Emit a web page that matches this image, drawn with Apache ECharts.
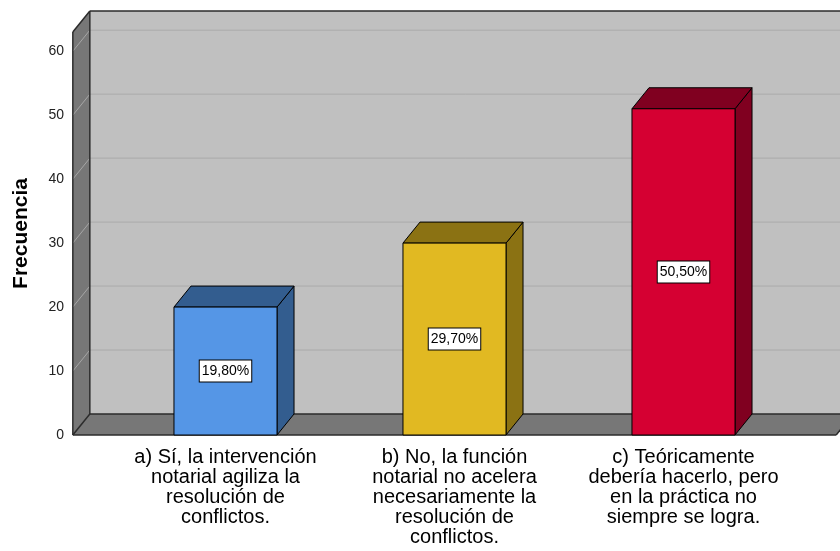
<!DOCTYPE html>
<html>
<head>
<meta charset="utf-8">
<script src="https://cdn.jsdelivr.net/npm/echarts@6/dist/echarts.min.js"></script>
<style>
  html, body { margin: 0; padding: 0; background: #fff; }
  #container { width: 840px; height: 551px; }
</style>
</head>
<body>
<div id="container"></div>
<script>
// datos del grafico
var categories = [
	'a) Sí, la intervención\nnotarial agiliza la\nresolución de\nconflictos.',
	'b) No, la función\nnotarial no acelera\nnecesariamente la\nresolución de\nconflictos.',
	'c) Teóricamente\ndebería hacerlo, pero\nen la práctica no\nsiempre se logra.'
];
var counts = [20, 30, 51];
var percents = ['19,80%', '29,70%', '50,50%'];
var yTicks = [0, 10, 20, 30, 40, 50, 60];

var frontColors = ['#5596e6', '#e1b922', '#d50032'];
var darkColors = ['#335d8f', '#8b7213', '#800020'];
var DX = 17, DY = -21;   // profundidad 3D
var LINE = '#2b2b2b';
var FONT = '"Liberation Sans", Arial, sans-serif';

var myChart = echarts.init(document.getElementById('container'));

function renderFrame(params, api) {
	var cs = params.coordSys;
	var band = api.size([1, 0])[0];
	var x0 = cs.x - band / 6;
	var x1 = cs.x + cs.width + band / 6;
	var yb = api.coord([0, 0])[1];
	var yt = cs.y;
	var kids = [];
	// pared del fondo
	kids.push({type: 'polygon', shape: {points: [[x0 + DX, yt + DY], [x1 + DX, yt + DY], [x1 + DX, yb + DY], [x0 + DX, yb + DY]]},
		style: {fill: '#c0c0c0'}});
	// pared izquierda
	kids.push({type: 'polygon', shape: {points: [[x0, yb], [x0, yt], [x0 + DX, yt + DY], [x0 + DX, yb + DY]]},
		style: {fill: '#777777'}});
	// suelo
	kids.push({type: 'polygon', shape: {points: [[x0, yb], [x1, yb], [x1 + DX, yb + DY], [x0 + DX, yb + DY]]},
		style: {fill: '#777777'}});
	// lineas de cuadricula
	yTicks.forEach(function (t) {
		if (t === 0) return;
		var y = api.coord([0, t])[1];
		kids.push({type: 'line', shape: {x1: x0, y1: y, x2: x0 + DX, y2: y + DY}, style: {stroke: '#a6a6a6', lineWidth: 1}});
		kids.push({type: 'line', shape: {x1: x0 + DX, y1: y + DY, x2: x1 + DX, y2: y + DY}, style: {stroke: '#aaaaaa', lineWidth: 1}});
	});
	// contornos
	var edges = [
		[x0, yt, x0, yb], [x0, yt, x0 + DX, yt + DY], [x0 + DX, yt + DY, x1 + DX, yt + DY],
		[x0 + DX, yt + DY, x0 + DX, yb + DY], [x0 + DX, yb + DY, x1 + DX, yb + DY],
		[x0, yb, x1, yb], [x1, yb, x1 + DX, yb + DY], [x0, yb, x0 + DX, yb + DY]
	];
	edges.forEach(function (e) {
		kids.push({type: 'line', shape: {x1: e[0], y1: e[1], x2: e[2], y2: e[3]}, style: {stroke: LINE, lineWidth: 1.5}});
	});
	return {type: 'group', children: kids};
}

function renderBar(params, api) {
	var i = api.value(0);
	var v = api.value(1);
	var band = api.size([1, 0])[0];
	var w = band * 0.45;
	var p0 = api.coord([i, 0]);
	var p1 = api.coord([i, v]);
	var xa = p0[0] - w / 2, xb = p0[0] + w / 2;
	var yb = p0[1], yt = p1[1];
	var st = {stroke: '#000', lineWidth: 1};
	return {type: 'group', children: [
		{type: 'polygon', shape: {points: [[xb, yt], [xb + DX, yt + DY], [xb + DX, yb + DY], [xb, yb]]},
			style: Object.assign({fill: darkColors[i]}, st)},
		{type: 'polygon', shape: {points: [[xa, yt], [xb, yt], [xb + DX, yt + DY], [xa + DX, yt + DY]]},
			style: Object.assign({fill: darkColors[i]}, st)},
		{type: 'rect', shape: {x: xa, y: yt, width: w, height: yb - yt},
			style: Object.assign({fill: frontColors[i]}, st)},
		{type: 'text', style: {
			text: percents[i], x: p0[0], y: api.coord([i, v / 2])[1],
			align: 'center', verticalAlign: 'middle',
			font: '14px ' + FONT, fill: '#000',
			backgroundColor: '#fff', borderColor: '#000', borderWidth: 1, padding: [4, 2, 3, 2]
		}}
	]};
}

var option = {
	backgroundColor: '#fff',
	animation: false,
	grid: {left: 111, right: 42, top: 32, bottom: 116, outerBoundsMode: 'none', containLabel: false},
	xAxis: {
		type: 'category',
		data: categories,
		axisLine: {show: false},
		axisTick: {show: false},
		axisLabel: {
			interval: 0, margin: 12, color: '#000',
			fontFamily: FONT, fontSize: 20, lineHeight: 20
		}
	},
	yAxis: {
		type: 'value',
		min: 0, max: 63, interval: 10,
		name: 'Frecuencia',
		nameLocation: 'middle', nameRotate: 90, nameGap: 79,
		nameTextStyle: {fontFamily: FONT, fontSize: 21, fontWeight: 'bold', color: '#000'},
		axisLine: {show: false},
		axisTick: {show: false},
		splitLine: {show: false},
		axisLabel: {
			margin: 47, color: '#222', fontSize: 14,
			fontFamily: FONT,
			showMaxLabel: false,
			formatter: function (v) { return yTicks.indexOf(v) >= 0 ? String(v) : ''; }
		}
	},
	series: [{
		type: 'custom',
		clip: false,
		z: 1,
		renderItem: renderFrame,
		data: [[0, 0]]
	}, {
		type: 'custom',
		clip: false,
		z: 2,
		renderItem: renderBar,
		encode: {x: 0, y: 1},
		data: counts.map(function (c, i) { return [i, c]; })
	}]
};
myChart.setOption(option);
</script>
</body>
</html>
